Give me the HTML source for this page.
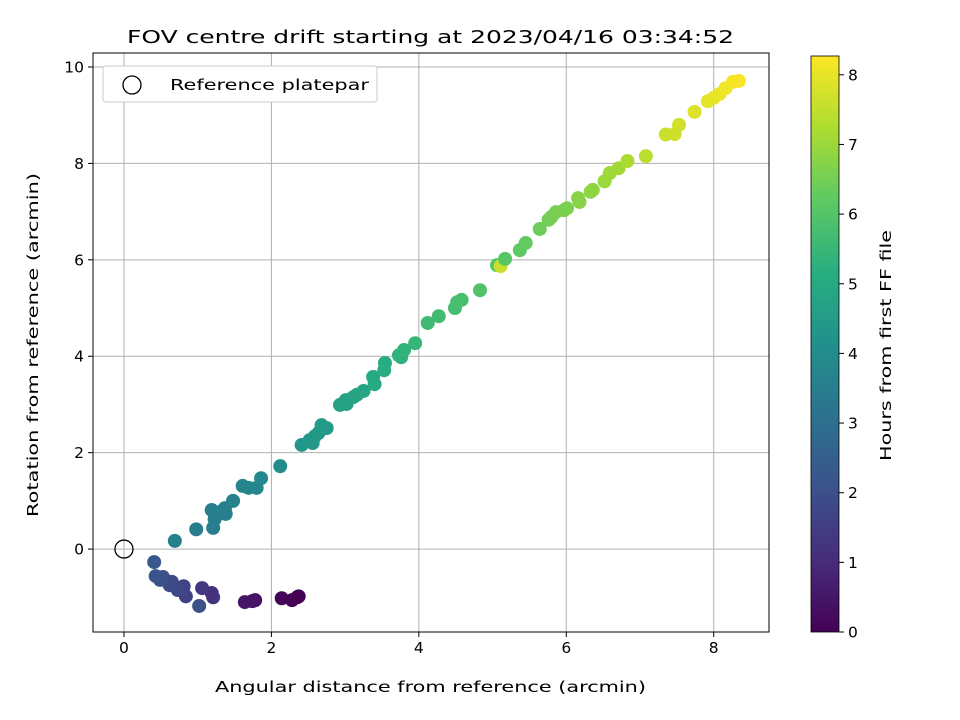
<!DOCTYPE html>
<html><head><meta charset="utf-8"><style>
html,body{margin:0;padding:0;background:#fff;}
svg{display:block;font-family:"DejaVu Sans","Liberation Sans",sans-serif;}
</style></head><body>
<svg id="chart" width="960" height="720" viewBox="0 0 960 720" xmlns="http://www.w3.org/2000/svg">
<defs>
<linearGradient id="vir" x1="0" y1="1" x2="0" y2="0">
<stop offset="0" stop-color="#440154"/><stop offset="0.125" stop-color="#472d7b"/><stop offset="0.25" stop-color="#3b528b"/><stop offset="0.375" stop-color="#2c728e"/><stop offset="0.5" stop-color="#21918c"/><stop offset="0.625" stop-color="#28ae80"/><stop offset="0.75" stop-color="#5ec962"/><stop offset="0.875" stop-color="#addc30"/><stop offset="1" stop-color="#fde725"/>
</linearGradient>
<clipPath id="pc"><rect x="93" y="53" width="676" height="579"/></clipPath>
</defs>
<text x="127" y="43" style="font-size:18px" textLength="607" lengthAdjust="spacingAndGlyphs">FOV centre drift starting at 2023/04/16 03:34:52</text>
<g id="grid"></g>
<g id="points" clip-path="url(#pc)"></g>
<rect x="93" y="53" width="676" height="579" fill="none" stroke="#000" stroke-width="1"/>
<g id="ticks" style="font-size:15.5px"></g>
<text x="215" y="692" style="font-size:15.5px" textLength="431" lengthAdjust="spacingAndGlyphs">Angular distance from reference (arcmin)</text>
<text transform="translate(38,517) rotate(-90)" style="font-size:15.5px" textLength="344" lengthAdjust="spacingAndGlyphs">Rotation from reference (arcmin)</text>
<g>
<rect x="103" y="66" width="274" height="36" rx="3" fill="#fff" stroke="#ccc"/>
<circle cx="132" cy="85" r="9" fill="none" stroke="#000" stroke-width="1.3"/>
<text x="170" y="90" style="font-size:15.5px" textLength="199" lengthAdjust="spacingAndGlyphs">Reference platepar</text>
</g>
<rect x="811" y="56" width="28" height="576" fill="url(#vir)" stroke="#000" stroke-width="0.8"/>
<g id="cbticks" style="font-size:15.5px"></g>
<text transform="translate(891,461) rotate(-90)" style="font-size:15.5px" textLength="231" lengthAdjust="spacingAndGlyphs">Hours from first FF file</text>
</svg>
<script>
const xTicks=[0,2,4,6,8];
const yTicks=[0,2,4,6,8,10];
const cTicks=[0,1,2,3,4,5,6,7,8];
const xs=[2.14,2.35,2.28,2.37,1.78,1.64,1.74,1.21,1.19,1.06,1.02,0.84,0.80,0.81,0.73,0.65,0.62,0.53,0.49,0.43,0.41,
0.69,0.98,1.21,1.19,1.23,1.37,1.38,1.33,1.48,1.61,1.69,1.80,1.86,2.12,2.41,2.52,2.56,2.59,2.64,2.68,2.75,2.93,3.01,3.02,3.11,3.16,3.25,3.38,3.40,3.53,3.54,3.73,3.76,3.80,3.95,4.12,4.27,4.49,4.52,4.58,4.83,5.06,5.11,5.17,5.37,5.45,5.64,5.76,5.80,5.86,5.97,6.01,6.16,6.18,6.33,6.36,6.52,6.59,6.71,6.83,7.08,7.35,7.47,7.53,7.74,7.92,8.0,8.08,8.16,8.26,8.34];
const ys=[-1.02,-1.0,-1.06,-0.98,-1.06,-1.10,-1.08,-1.0,-0.91,-0.81,-1.18,-0.98,-0.85,-0.77,-0.85,-0.68,-0.75,-0.58,-0.64,-0.56,-0.27,
0.17,0.41,0.44,0.81,0.62,0.85,0.73,0.79,1.0,1.31,1.27,1.27,1.47,1.72,2.16,2.26,2.2,2.34,2.41,2.57,2.51,2.99,3.09,3.01,3.15,3.2,3.28,3.57,3.42,3.71,3.86,4.02,3.98,4.13,4.27,4.69,4.83,5.0,5.12,5.17,5.37,5.89,5.87,6.02,6.2,6.35,6.64,6.83,6.89,6.99,7.03,7.07,7.28,7.2,7.41,7.45,7.63,7.8,7.9,8.05,8.15,8.6,8.61,8.8,9.07,9.29,9.36,9.44,9.56,9.69,9.71];
const hours=[0.1,0.0,0.05,0.0,0.4,0.5,0.45,1.2,1.15,1.3,2.0,1.6,1.7,1.65,1.8,1.85,1.9,2.0,2.05,2.1,2.3,
3.6,3.5,3.5,3.5,3.5,3.55,3.55,3.55,3.65,3.75,3.75,3.8,3.85,3.95,4.3,4.35,4.4,4.4,4.45,4.5,4.5,4.7,4.75,4.75,4.8,4.8,4.85,5.0,5.0,5.1,5.1,5.3,5.3,5.35,5.45,5.6,5.65,5.75,5.8,5.8,5.95,6.05,7.6,6.1,6.2,6.25,6.4,6.5,6.5,6.55,6.6,6.6,6.75,6.75,6.85,6.85,7.0,7.05,7.1,7.2,7.4,7.6,7.65,7.7,7.85,7.95,8.0,8.05,8.1,8.15,8.2];
const NS="http://www.w3.org/2000/svg";
const X0=93,X1=769,Y0=632,Y1=53;
const xmin=-0.42,xmax=8.75,ymin=-1.72,ymax=10.29,cmax=8.27;
function sx(v){return X0+(v-xmin)/(xmax-xmin)*(X1-X0);}
function sy(v){return Y0-(v-ymin)/(ymax-ymin)*(Y0-Y1);}
function sc(v){return 632-v/cmax*576;}
const stops=[[68,1,84],[71,45,123],[59,82,139],[44,114,142],[33,145,140],[40,174,128],[94,201,98],[173,220,48],[253,231,37]];
function vir(t){t=Math.max(0,Math.min(1,t))*8;const i=Math.min(7,Math.floor(t)),f=t-i;const a=stops[i],b=stops[i+1];
return 'rgb('+a.map((c,k)=>Math.round(c+(b[k]-c)*f)).join(',')+')';}
function mk(tag,attrs,parent){const e=document.createElementNS(NS,tag);for(const k in attrs)e.setAttribute(k,attrs[k]);parent.appendChild(e);return e;}
const grid=document.getElementById('grid'),ticks=document.getElementById('ticks'),pts=document.getElementById('points'),cb=document.getElementById('cbticks');
xTicks.forEach(v=>{const x=sx(v);
const g=mk('line',{x1:x,x2:x,y1:Y1,y2:Y0,stroke:'#b0b0b0','stroke-width':1},grid);


const t=mk('line',{x1:x,x2:x,y1:Y0,y2:Y0+5,stroke:'#000'},ticks);


const l=mk('text',{x:x,y:Y0+21,'text-anchor':'middle'},ticks);l.textContent=v;

});
yTicks.forEach(v=>{const y=sy(v);
const g=mk('line',{x1:X0,x2:X1,y1:y,y2:y,stroke:'#b0b0b0','stroke-width':1},grid);


const t=mk('line',{x1:X0-5,x2:X0,y1:y,y2:y,stroke:'#000'},ticks);


const l=mk('text',{x:X0-9,y:y+5.5,'text-anchor':'end'},ticks);l.textContent=v;

});
cTicks.forEach(v=>{const y=sc(v);
const t=mk('line',{x1:839,x2:844,y1:y,y2:y,stroke:'#000'},cb);


const l=mk('text',{x:848,y:y+5.5},cb);l.textContent=v;

});
xs.forEach((v,i)=>{const c=mk('circle',{cx:sx(v),cy:sy(ys[i]),r:7,fill:vir(hours[i]/cmax)},pts);

});
const ref=mk('circle',{cx:sx(0),cy:sy(0),r:9,fill:'none',stroke:'#000','stroke-width':1.3},pts);


</script>
</body></html>
